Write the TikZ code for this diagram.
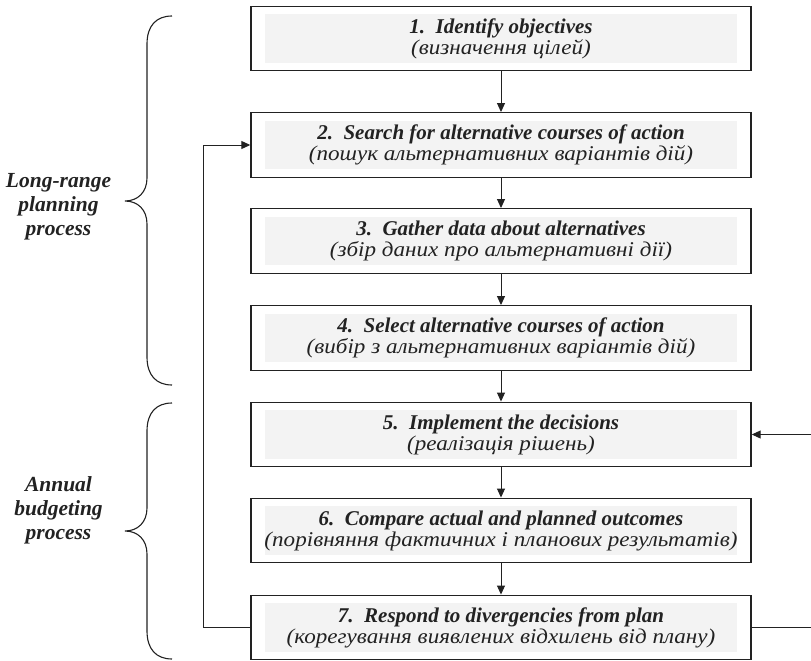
\documentclass[tikz,border=0pt]{standalone}
\usepackage{fontspec}
\setmainfont{Liberation Serif}
\usetikzlibrary{arrows.meta}
\definecolor{ink}{HTML}{222222}
\definecolor{boxfill}{HTML}{F3F3F3}
% step title in bold italic, Ukrainian gloss in italic, slightly widened
\newcommand\steptext[2]{\textbf{#1}\\\scalebox{1.1}[1]{#2}}
\tikzset{
  stepbox/.style={draw=ink, line width=1.4pt, minimum width=500pt,
    minimum height=64.5pt, inner sep=0pt, text=ink, align=center,
    font=\fontsize{21}{21}\selectfont\itshape,
    path picture={\fill[boxfill]
      ([shift={(14pt,-8pt)}]path picture bounding box.north west) rectangle
      ([shift={(-14pt,8pt)}]path picture bounding box.south east);}},
  flow/.style={draw=ink, line width=1pt, -{Triangle[length=9pt,width=8pt]}},
  link/.style={draw=ink, line width=1pt},
  brace/.style={draw=ink, line width=1.1pt},
  phase/.style={text=ink, align=center,
    font=\fontsize{21.5}{24}\selectfont\bfseries\itshape}
}
\begin{document}
\begin{tikzpicture}[x=1pt, y=-1pt]
  \useasboundingbox (0,0) rectangle (811,661);

  % process steps
  \node[stepbox] (b1) at (501,38.5)  {\steptext{1.\ \ Identify objectives}{(визначення цілей)}};
  \node[stepbox] (b2) at (501,145)   {\steptext{2.\ \ Search for alternative courses of action}{(пошук альтернативних варіантів дій)}};
  \node[stepbox] (b3) at (501,241)   {\steptext{3.\ \ Gather data about alternatives}{(збір даних про альтернативні дії)}};
  \node[stepbox] (b4) at (501,338)   {\steptext{4.\ \ Select alternative courses of action}{(вибір з альтернативних варіантів дій)}};
  \node[stepbox] (b5) at (501,434.5) {\steptext{5.\ \ Implement the decisions}{(реалізація рішень)}};
  \node[stepbox] (b6) at (501,530.5) {\steptext{6.\ \ Compare actual and planned outcomes}{(порівняння фактичних і планових результатів)}};
  \node[stepbox] (b7) at (501,627.5) {\steptext{7.\ \ Respond to divergencies from plan}{(корегування виявлених відхилень від плану)}};

  % main sequence
  \draw[flow] (b1) -- (b2);
  \draw[flow] (b2) -- (b3);
  \draw[flow] (b3) -- (b4);
  \draw[flow] (b4) -- (b5);
  \draw[flow] (b5) -- (b6);
  \draw[flow] (b6) -- (b7);

  % feedback loops
  \coordinate (loopL) at (203,0);
  \coordinate (outR) at (811,627.5);
  \coordinate (inR) at (811,434.5);
  \draw[flow] (b7.west) -- (b7.west -| loopL) |- (b2.west);
  \draw[link] (b7.east) -- (outR);
  \draw[flow] (inR) -- (b5.east);

  % braces grouping the phases
  \draw[brace] (172,16) .. controls (156,16) and (147,26) .. (147,44)
    -- (147,178) .. controls (147,192) and (138,201) .. (125,201)
    .. controls (138,201) and (147,210) .. (147,224)
    -- (147,357) .. controls (147,375) and (156,385) .. (172,385);
  \draw[brace] (172,403) .. controls (156,403) and (147,413) .. (147,431)
    -- (147,508) .. controls (147,522) and (138,531) .. (125,531)
    .. controls (138,531) and (147,540) .. (147,554)
    -- (147,631) .. controls (147,649) and (156,659) .. (172,659);

  \node[phase] (lr) at (58.5,207) {Long-range\\planning\\process};
  \node[phase] (ab) at (58.5,510) {Annual\\budgeting\\process};
\end{tikzpicture}
\end{document}
